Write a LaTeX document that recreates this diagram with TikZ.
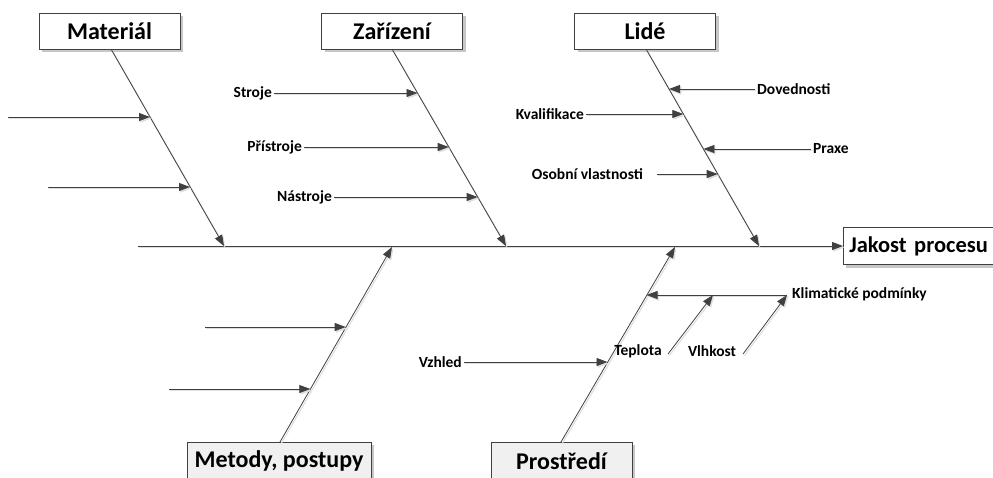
\documentclass[tikz,border=0pt]{standalone}
\usepackage{fontspec}
\setmainfont{Carlito}
\usetikzlibrary{arrows.meta,shadows,calc}
\definecolor{linec}{HTML}{404040}
\begin{document}
\begin{tikzpicture}[x=1pt,y=-1pt,
  bone/.style={draw=linec, line width=0.8pt,
     preaction={draw=black!13, line width=1.1pt, transform canvas={shift={(1.3pt,-1.6pt)}}}},
  arr/.style={bone, -{Triangle[length=11pt,width=8pt]}},
  catbox/.style={draw=linec, line width=0.7pt, fill=white, minimum height=36pt,
     font=\fontsize{24}{28}\selectfont\bfseries,
     drop shadow={shadow xshift=3pt, shadow yshift=-3pt, fill=black!22, opacity=1}},
  lowbox/.style={catbox, fill=black!6},
  lbl/.style={font=\fontsize{15.5}{18}\selectfont\bfseries, inner sep=2pt}
]
\useasboundingbox (0,0) rectangle (993,477);
% category boxes
\node[catbox, minimum width=141pt] (mat) at (109.5,31) {Materiál};
\node[catbox, minimum width=141pt] (zar) at (392,31) {Zařízení};
\node[catbox, minimum width=141pt] (lid) at (645,31) {Lidé};
\node[lowbox, minimum width=184pt, minimum height=38pt] (met) at (279,461) {Metody, postupy};
\node[lowbox, minimum width=141pt, minimum height=38pt] (pro) at (561.5,461) {Prostředí};
\node[catbox, anchor=west, minimum height=37pt, inner xsep=6pt, text width=190pt, align=left,
      font=\fontsize{22.5}{26}\selectfont\bfseries] (jak) at (843,246) {Jakost procesu};
% spine
\coordinate (s0) at (138,246);
\draw[arr] (s0) -- (jak.west);
% main branches
\coordinate (m0) at (111,49);  \coordinate (m1) at (224,246);
\coordinate (z0) at (392,49);  \coordinate (z1) at (506,246);
\coordinate (l0) at (646,49);  \coordinate (l1) at (759,246);
\coordinate (b0) at (280,442); \coordinate (b1) at (392,247);
\coordinate (p0) at (561,442); \coordinate (p1) at (675,247);
\draw[arr] (m0) -- (m1);
\draw[arr] (z0) -- (z1);
\draw[arr] (l0) -- (l1);
\draw[arr] (b0) -- (b1);
\draw[arr] (p0) -- (p1);
% Material causes
\coordinate (ma) at (8,117);   \coordinate (mat1) at (150,117);
\coordinate (mb) at (48,187);  \coordinate (mat2) at (190,187);
\draw[arr] (ma) -- (mat1);
\draw[arr] (mb) -- (mat2);
% Zarizeni causes
\node[lbl, anchor=east] (str) at (274,93) {Stroje};
\node[lbl, anchor=east] (pri) at (304,147) {Přístroje};
\node[lbl, anchor=east] (nas) at (334,197) {Nástroje};
\coordinate (zt1) at (417.5,93);
\coordinate (zt2) at (448.7,147);
\coordinate (zt3) at (477.6,197);
\draw[arr] (str.east) -- (zt1);
\draw[arr] (pri.east) -- (zt2);
\draw[arr] (nas.east) -- (zt3);
% Lide causes
\node[lbl, anchor=west] (dov) at (755,89) {Dovednosti};
\node[lbl, anchor=east] (kva) at (586,114) {Kvalifikace};
\node[lbl, anchor=west] (pra) at (811,149) {Praxe};
\node[lbl, anchor=east] (oso) at (645,174) {Osobní vlastnosti};
\coordinate (lt1) at (669,89);
\coordinate (lt2) at (683.3,114);
\coordinate (lt3) at (703.4,149);
\coordinate (os0) at (657,174);
\coordinate (lt4) at (717.7,174);
\draw[arr] (dov.west) -- (lt1);
\draw[arr] (kva.east) -- (lt2);
\draw[arr] (pra.west) -- (lt3);
\draw[arr] (os0) -- (lt4);
% Metody causes
\coordinate (ba) at (205,327); \coordinate (bt1) at (345.7,327);
\coordinate (bb) at (169,389); \coordinate (bt2) at (310.3,389);
\draw[arr] (ba) -- (bt1);
\draw[arr] (bb) -- (bt2);
% Prostredi causes
\node[lbl, anchor=east] (vzh) at (464,362) {Vzhled};
\coordinate (pt1) at (607.5,362);
\draw[arr] (vzh.east) -- (pt1);
\node[lbl, anchor=west] (kli) at (790,294) {Klimatické podmínky};
\coordinate (k0) at (787,295);
\coordinate (pt2) at (646.5,295);
\draw[arr] (k0) -- (pt2);
\node[lbl] (tep) at (638,351) {Teplota};
\node[lbl] (vlh) at (712,351) {Vlhkost};
\coordinate (te0) at (668,354); \coordinate (te1) at (713,295);
\coordinate (vl0) at (743,354);
\draw[arr] (te0) -- (te1);
\draw[arr] (vl0) -- (k0);
\end{tikzpicture}
\end{document}
